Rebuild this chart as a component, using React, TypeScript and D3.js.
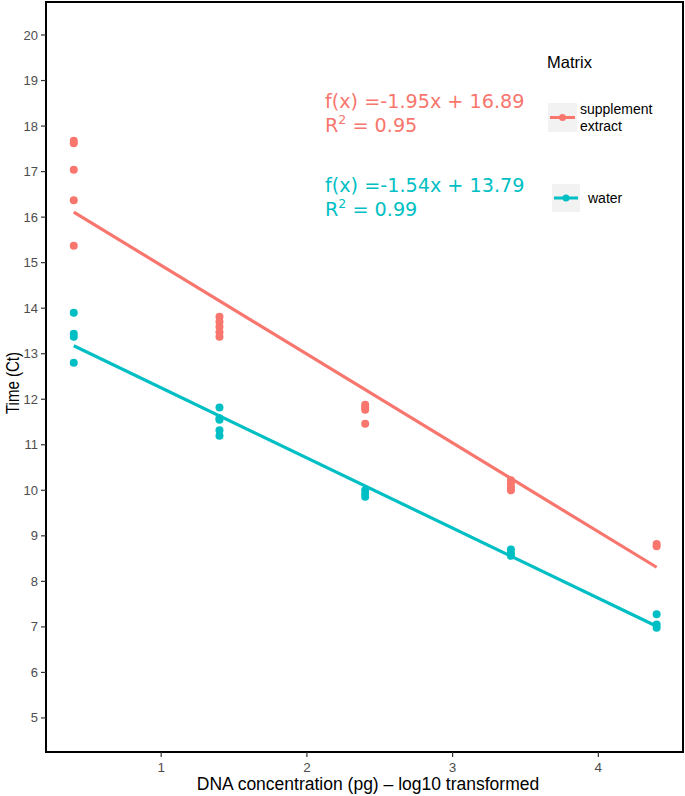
import React from "react";
import * as d3 from "d3";

const xTicks = [1, 2, 3, 4];
const yTicks = [5, 6, 7, 8, 9, 10, 11, 12, 13, 14, 15, 16, 17, 18, 19, 20];

const supplementX = [0.4, 0.4, 0.4, 0.4, 0.4, 1.4, 1.4, 1.4, 1.4, 1.4, 2.4, 2.4, 2.4, 2.4, 3.4, 3.4, 3.4, 3.4, 4.4, 4.4];
const supplementY = [17.68, 17.62, 17.04, 16.37, 15.37, 13.81, 13.7, 13.59, 13.47, 13.37, 11.88, 11.82, 11.77, 11.46, 10.22, 10.14, 10.06, 10.0, 8.82, 8.77];
const waterX = [0.4, 0.4, 0.4, 0.4, 1.4, 1.4, 1.4, 1.4, 1.4, 2.4, 2.4, 2.4, 3.4, 3.4, 3.4, 4.4, 4.4, 4.4];
const waterY = [13.9, 13.44, 13.37, 12.8, 11.82, 11.58, 11.55, 11.32, 11.2, 10.0, 9.92, 9.86, 8.7, 8.62, 8.56, 7.28, 7.05, 6.98];

const seriesNames = ["supplement extract", "water"];
const seriesColors = ["#F8766D", "#00BFC4"];
const slopes = [-1.95, -1.54];
const intercepts = [16.89, 13.79];
const r2 = ["0.95", "0.99"];
const fitRange = [0.4, 4.4];

const W = 685;
const H = 796;
const panel = { left: 46, top: 2, right: 683, bottom: 752 };

export default function App() {
  const x = d3.scaleLinear().domain([0.2095, 4.581]).range([panel.left, panel.right]);
  const y = d3.scaleLinear().domain([4.252, 20.725]).range([panel.bottom, panel.top]);
  const line = d3.line<[number, number]>().x((d) => x(d[0])).y((d) => y(d[1]));

  const series = [
    { xs: supplementX, ys: supplementY },
    { xs: waterX, ys: waterY },
  ];

  const sans = "'Liberation Sans', Arial, sans-serif";
  const dv = "'DejaVu Sans', sans-serif";

  return (
    <svg width={W} height={H} style={{ position: "absolute", left: 0, top: 0, background: "#fff" }}>
      <rect x={0} y={0} width={W} height={H} fill="#fff" />
      {slopes.map((s, i) => (
        <path
          key={"fit" + i}
          d={line(fitRange.map((v) => [v, s * v + intercepts[i]] as [number, number])) || ""}
          stroke={seriesColors[i]}
          strokeWidth={3.2}
          fill="none"
        />
      ))}
      {series.map((sr, i) =>
        sr.xs.map((xv, j) => (
          <circle key={`p${i}-${j}`} cx={x(xv)} cy={y(sr.ys[j])} r={4} fill={seriesColors[i]} />
        ))
      )}
      {slopes.map((s, i) => (
        <g key={"ann" + i} fill={seriesColors[i]} fontFamily={dv} fontSize={19.2}>
          <text x={325} y={i === 0 ? 108 : 192}>
            {`f(x) =${s.toFixed(2)}x + ${intercepts[i].toFixed(2)}`}
          </text>
          <text x={325} y={i === 0 ? 132 : 216}>
            R<tspan dy={-8} fontSize={12.5}>2</tspan>
            <tspan dy={8}>{` = ${r2[i]}`}</tspan>
          </text>
        </g>
      ))}
      <text x={547} y={68} fontFamily={sans} fontSize={16.5} fill="#000">Matrix</text>
      <g>
        <rect x={548} y={103} width={29} height={29} fill="#F2F2F2" />
        <line x1={550} x2={575} y1={117.5} y2={117.5} stroke={seriesColors[0]} strokeWidth={3} />
        <circle cx={562.5} cy={117.5} r={3.5} fill={seriesColors[0]} />
        <text x={580} y={114} fontFamily={sans} fontSize={14} fill="#000">supplement</text>
        <text x={580} y={131} fontFamily={sans} fontSize={14} fill="#000">extract</text>
      </g>
      <g>
        <rect x={552} y={184} width={28} height={28} fill="#F2F2F2" />
        <line x1={554} x2={578} y1={198} y2={198} stroke={seriesColors[1]} strokeWidth={3} />
        <circle cx={566} cy={198} r={3.5} fill={seriesColors[1]} />
        <text x={588} y={203} fontFamily={sans} fontSize={14} fill="#000">water</text>
      </g>
      <rect
        x={panel.left}
        y={panel.top}
        width={panel.right - panel.left}
        height={panel.bottom - panel.top}
        fill="none"
        stroke="#000"
        strokeWidth={2}
      />
      {yTicks.map((t) => (
        <g key={"yt" + t}>
          <line x1={41} x2={panel.left} y1={y(t)} y2={y(t)} stroke="#333" strokeWidth={1.2} />
          <text x={38} y={y(t)} dy="0.35em" textAnchor="end" fontFamily={sans} fontSize={13} fill="#4D4D4D">
            {t}
          </text>
        </g>
      ))}
      {xTicks.map((t) => (
        <g key={"xt" + t}>
          <line x1={x(t)} x2={x(t)} y1={panel.bottom} y2={panel.bottom + 5} stroke="#333" strokeWidth={1.2} />
          <text x={x(t)} y={772} textAnchor="middle" fontFamily={sans} fontSize={13.5} fill="#4D4D4D">
            {t}
          </text>
        </g>
      ))}
      <text x={368} y={790} textAnchor="middle" fontFamily={sans} fontSize={17.5} fill="#000">
        DNA concentration (pg) – log10 transformed
      </text>
      <text
        transform={`translate(19, 383) rotate(-90) scale(0.86, 1)`}
        textAnchor="middle"
        fontFamily={sans}
        fontSize={17.5}
        fill="#000"
      >
        Time (Ct)
      </text>
    </svg>
  );
}
